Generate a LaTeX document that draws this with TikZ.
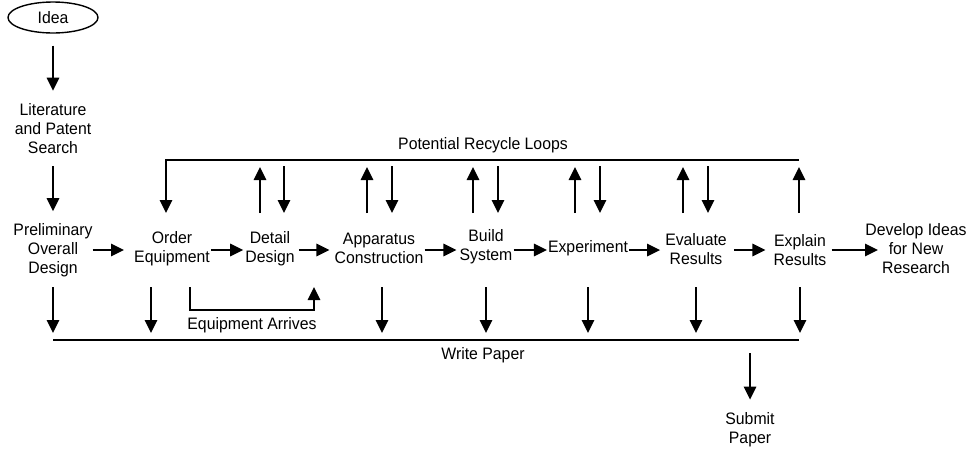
\documentclass[tikz,border=0pt]{standalone}
\usepackage{fontspec}
\setmainfont{Liberation Sans}[FakeStretch=0.952]
\usetikzlibrary{arrows.meta,shapes.geometric,calc}
\begin{document}
\begin{tikzpicture}[x=1pt,y=-1pt,
  lbl/.style={align=center,inner sep=0pt,font=\fontsize{16.6}{19}\selectfont},
  arr/.style={line width=1.6pt,-{Triangle[length=13pt,width=12.5pt]}},
  ln/.style={line width=1.6pt},
]
\useasboundingbox (0,0) rectangle (972,448);
% nodes
\node[ellipse,draw,line width=1.4pt,minimum width=90pt,minimum height=31pt,inner sep=0pt,
      font=\fontsize{16.6}{19}\selectfont] (idea) at (53,17.5) {Idea};
\node[lbl] (lit) at (53,129) {Literature\\and Patent\\Search};
\node[lbl] (pre) at (53,250) {Preliminary\\Overall\\Design};
\node[lbl] (ord) at (172,249) {Order\\Equipment};
\node[lbl] (det) at (270,249) {Detail\\Design};
\node[lbl] (app) at (379,248) {Apparatus\\Construction};
\node[lbl] (bui) at (486,247) {Build\\System};
\node[lbl] (exp) at (588,248) {Experiment};
\node[lbl] (eva) at (696,249) {Evaluate\\Results};
\node[lbl] (exl) at (800,250) {Explain\\Results};
\node[lbl] (dev) at (916,249) {Develop Ideas\\for New\\Research};
\node[lbl] (sub) at (750,430) {Submit\\Paper};
\node[lbl] (loops) at (483,145) {Potential Recycle Loops};
\node[lbl] (write) at (483,355) {Write Paper};
\node[lbl] (arrives) at (252,325) {Equipment Arrives};
% reference coordinates
\coordinate (row) at (0,250);
\coordinate (rowtop) at (0,213);
\coordinate (rowbot) at (0,287);
\coordinate (loopL) at (166,160);
\coordinate (loopR) at (799,160);
\coordinate (writeL) at (53,340);
\coordinate (writeR) at (799,340);
\coordinate (wsub) at (750,340);
\coordinate (eaEnd) at (314,287);
% left column
\draw[arr,shorten <=12pt,shorten >=13pt] (idea) -- (lit);
\draw[arr,shorten <=12pt,shorten >=12pt] (lit) -- (pre);
% main row
\draw[arr,shorten <=0pt,shorten >=10pt] (row -| pre.east) -- (row -| ord.west);
\draw[arr,shorten <=1pt,shorten >=2pt] (row -| ord.east) -- (row -| det.west);
\draw[arr,shorten <=4pt,shorten >=5pt] (row -| det.east) -- (row -| app.west);
\draw[arr,shorten <=1pt,shorten >=3pt] (row -| app.east) -- (row -| bui.west);
\draw[arr,shorten <=1pt,shorten >=1pt] (row -| bui.east) -- (row -| exp.west);
\draw[arr,shorten <=1pt,shorten >=5pt] (row -| exp.east) -- (row -| eva.west);
\draw[arr,shorten <=7pt,shorten >=8pt] (row -| eva.east) -- (row -| exl.west);
\draw[arr,shorten <=5pt,shorten >=38pt] (row -| exl.east) -- (row -| dev);
% recycle loops
\draw[arr] (loopR) -- (loopL) -- (loopL |- rowtop);
\foreach \n/\u/\d in {det/-10/14, app/-12/13, bui/-13/12, exp/-13/12, eva/-13/12}{
  \draw[arr,shorten >=7pt] ($(\n |- rowtop)+(\u,0)$) -- ($(\n |- loopL)+(\u,0)$);
  \draw[arr,shorten <=6pt] ($(\n |- loopL)+(\d,0)$) -- ($(\n |- rowtop)+(\d,0)$);
}
\draw[arr,shorten >=7pt] (loopR |- rowtop) -- (loopR);
% write paper
\draw[ln] (writeL) -- (writeR);
\foreach \n/\o in {pre/0, ord/-21, app/3, bui/0, exp/0, eva/0, exl/0}{
  \draw[arr,shorten >=7pt] ($(\n |- rowbot)+(\o,0)$) -- ($(\n |- writeL)+(\o,0)$);
}
% equipment arrives
\draw[arr] ($(ord |- rowbot)+(18,0)$) |- ($(eaEnd)+(0,23)$) -- (eaEnd);
% submit
\draw[arr,shorten <=13pt,shorten >=13pt] (wsub) -- (sub);
\end{tikzpicture}
\end{document}
